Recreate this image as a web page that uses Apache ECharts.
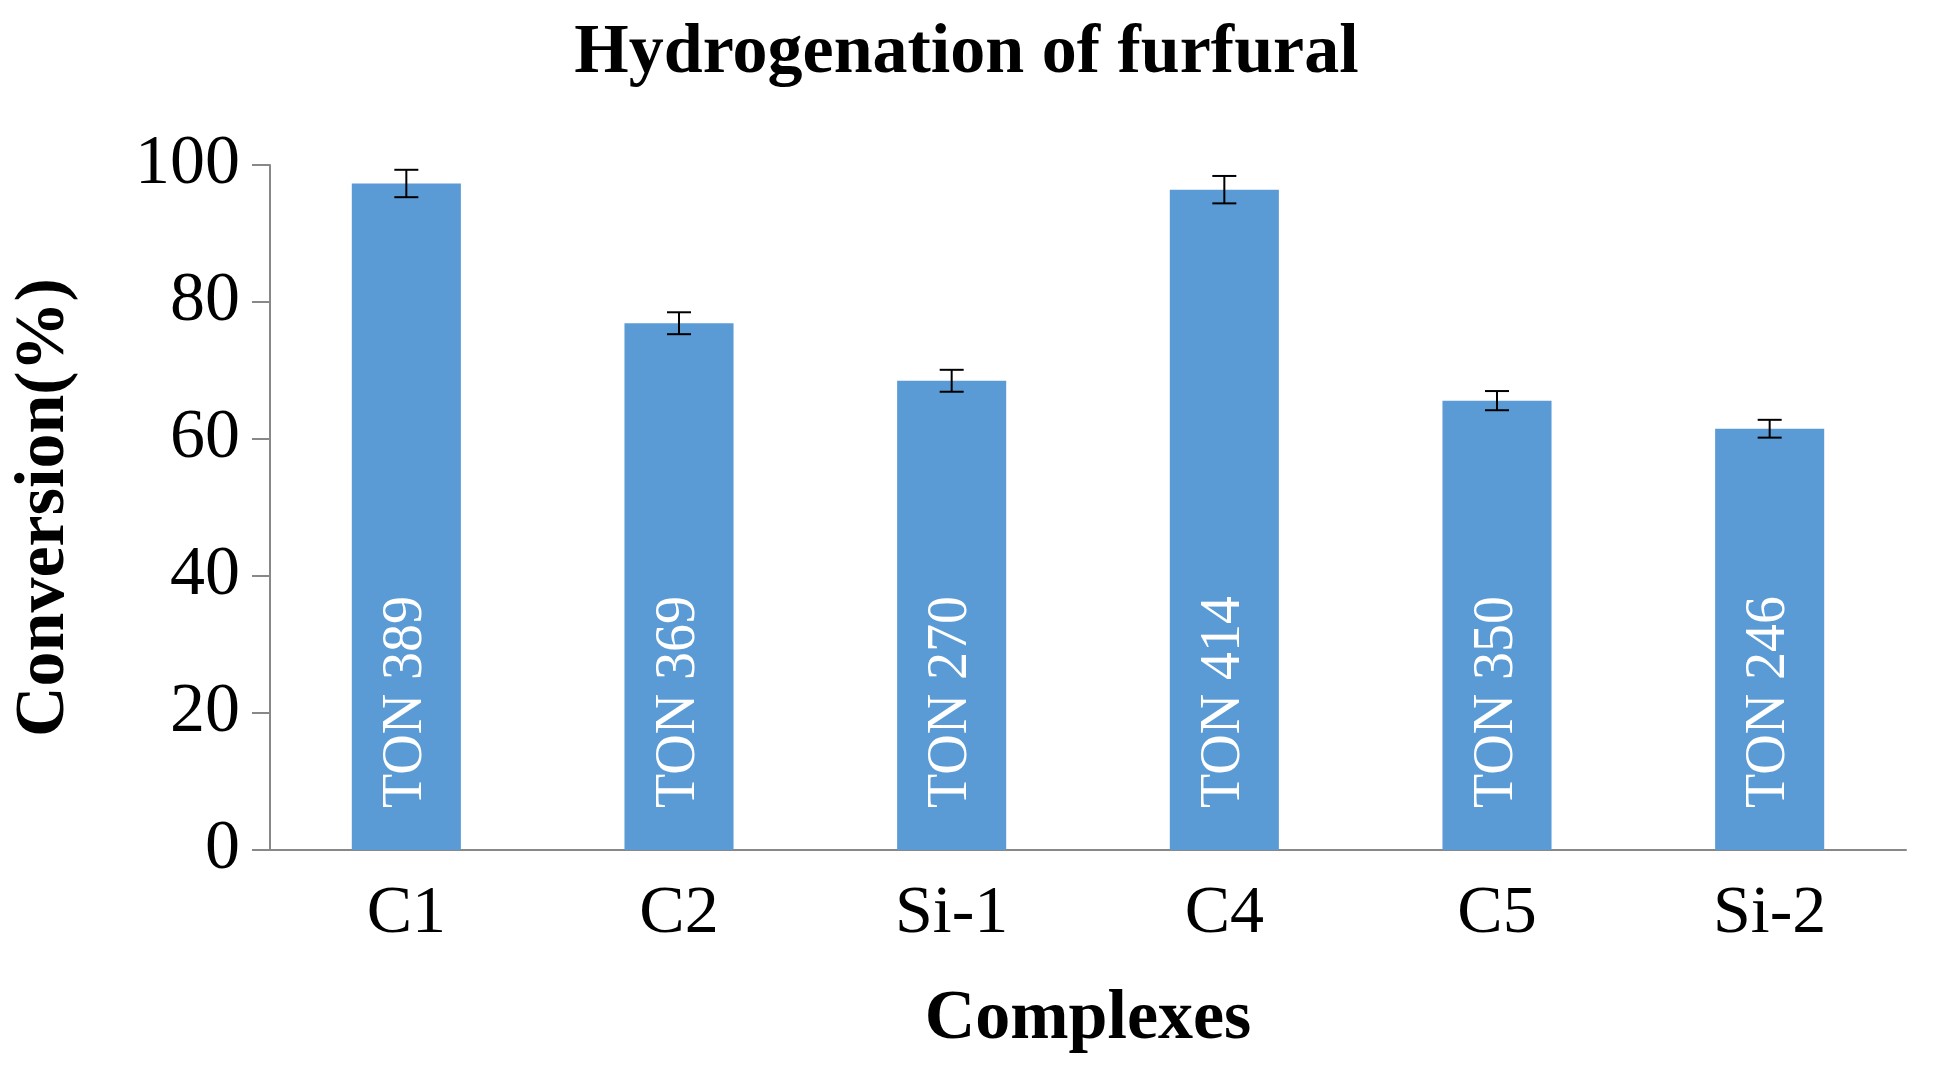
<!DOCTYPE html>
<html>
<head>
<meta charset="utf-8">
<script src="https://cdn.jsdelivr.net/npm/echarts@6/dist/echarts.min.js"></script>
<style>html,body{margin:0;padding:0;background:#fff}#chart{width:1933px;height:1090px}</style>
</head>
<body>
<div id="chart"></div>
<script>
// data
var categories = ['C1', 'C2', 'Si-1', 'C4', 'C5', 'Si-2'];
var conversion = [97.3, 76.9, 68.5, 96.4, 65.6, 61.5];
var errors = [2.0, 1.6, 1.6, 2.0, 1.4, 1.3];
var tonLabels = ['TON 389', 'TON 369', 'TON 270', 'TON 414', 'TON 350', 'TON 246'];

var font = 'Liberation Serif';
var myChart = echarts.init(document.getElementById('chart'));

var errData = conversion.map(function (v, i) { return [i, v - errors[i], v + errors[i]]; });

myChart.setOption({
  animation: false,
  title: {
    text: 'Hydrogenation of furfural', left: 'center', top: 14,
    textStyle: { fontFamily: font, fontWeight: 'bold', fontSize: 70, color: '#000' }
  },
  grid: { left: 270, right: 27, top: 165, bottom: 240 },
  xAxis: {
    type: 'category', data: categories,
    name: 'Complexes', nameLocation: 'middle', nameGap: 135,
    nameTextStyle: { fontFamily: font, fontWeight: 'bold', fontSize: 70, color: '#000' },
    axisLine: { lineStyle: { color: '#888', width: 2 } },
    axisTick: { length: 18, lineStyle: { color: '#888', width: 2 } },
    axisLabel: { fontFamily: font, fontSize: 68, color: '#000', margin: 30 }
  },
  yAxis: {
    type: 'value', min: 0, max: 100, interval: 20,
    name: 'Conversion(%)', nameLocation: 'middle', nameGap: 190,
    nameTextStyle: { fontFamily: font, fontWeight: 'bold', fontSize: 70, color: '#000' },
    axisLine: { show: true, lineStyle: { color: '#888', width: 2 } },
    axisTick: { show: true, length: 18, lineStyle: { color: '#888', width: 2 } },
    splitLine: { show: false },
    axisLabel: { fontFamily: font, fontSize: 70, color: '#000', margin: 30 }
  },
  series: [{
    type: 'bar', data: conversion, barWidth: '40%',
    itemStyle: { color: '#5b9bd5' },
    label: {
      show: true, position: 'insideBottom', rotate: 90, align: 'left', verticalAlign: 'middle',
      distance: 42, color: '#fff', fontFamily: font, fontSize: 56,
      formatter: function (p) { return tonLabels[p.dataIndex]; }
    }
  }, {
    type: 'custom', data: errData, z: 10,
    renderItem: function (params, api) {
      var lo = api.coord([api.value(0), api.value(1)]);
      var hi = api.coord([api.value(0), api.value(2)]);
      var w = 12;
      var st = { stroke: '#000', lineWidth: 2 };
      return { type: 'group', children: [
        { type: 'line', shape: { x1: lo[0], y1: lo[1], x2: hi[0], y2: hi[1] }, style: st },
        { type: 'line', shape: { x1: lo[0] - w, y1: lo[1], x2: lo[0] + w, y2: lo[1] }, style: st },
        { type: 'line', shape: { x1: hi[0] - w, y1: hi[1], x2: hi[0] + w, y2: hi[1] }, style: st }
      ] };
    }
  }]
});
</script>
</body>
</html>
